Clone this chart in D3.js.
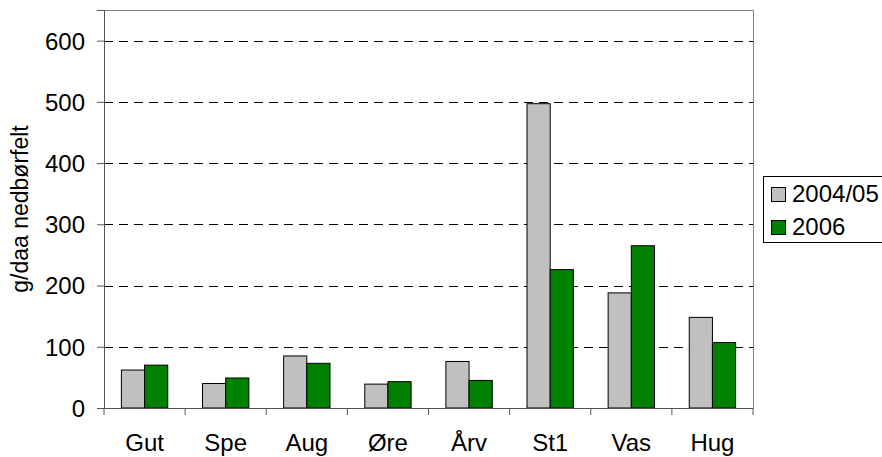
<!DOCTYPE html>
<html>
<head>
<meta charset="utf-8">
<script src="https://cdn.jsdelivr.net/npm/d3@7"></script>
<style>
  body { margin: 0; background: #fff; }
  text { font-family: "Liberation Sans", Arial, sans-serif; fill: #000; }
</style>
</head>
<body>
<div id="chart"></div>
<script>
const categories = ["Gut", "Spe", "Aug", "Øre", "Årv", "St1", "Vas", "Hug"]
const series = ["2004/05", "2006"]
const values0405 = [62, 40, 85, 39, 76, 497, 188, 148]
const values2006 = [70, 49, 73, 43, 45, 226, 265, 107]
const yTicks = [0, 100, 200, 300, 400, 500, 600]
const colors = ["#c0c0c0", "#008000"]

const width = 882, height = 457
const margin = { top: 10, right: 129, bottom: 49, left: 104 }
const innerW = width - margin.left - margin.right
const innerH = height - margin.top - margin.bottom

const svg = d3.select("#chart").append("svg")
  .attr("width", width)
  .attr("height", height)

const g = svg.append("g").attr("transform", `translate(${margin.left},${margin.top})`)

const x = d3.scaleBand().domain(categories).range([0, innerW])
const x1 = d3.scaleBand().domain(series).range([0, x.bandwidth()]).paddingInner(0).paddingOuter(0.75)
const y = d3.scaleLinear().domain([0, 650]).range([innerH, 0])

// gridlines
g.selectAll(".grid").data(yTicks.filter(d => d > 0))
  .enter().append("line")
    .attr("x1", 0).attr("x2", innerW)
    .attr("y1", d => Math.round(y(d)) + 0.5).attr("y2", d => Math.round(y(d)) + 0.5)
    .attr("stroke", "#000")
    .attr("stroke-dasharray", "9,6")

// plot border top/right
g.append("path")
  .attr("d", `M0.5,0.5H${innerW + 0.5}V${innerH}`)
  .attr("fill", "none")
  .attr("stroke", "#808080")

const rows = categories.map((c, i) => ({ cat: c, vals: [values0405[i], values2006[i]] }))

g.selectAll(".cat").data(rows)
  .enter().append("g")
    .attr("transform", d => `translate(${x(d.cat)},0)`)
  .selectAll("rect").data(d => d.vals.map((v, j) => ({ key: series[j], v, j })))
  .enter().append("rect")
    .attr("x", d => x1(d.key))
    .attr("y", d => y(d.v))
    .attr("width", x1.bandwidth())
    .attr("height", d => innerH - y(d.v))
    .attr("fill", d => colors[d.j])
    .attr("stroke", "#000")
    .attr("stroke-width", 1)

// y axis
const yAxis = g.append("g")
  .call(d3.axisLeft(y).tickValues(yTicks).tickSize(7).tickPadding(12))
yAxis.select(".domain").attr("stroke", "#555")
yAxis.selectAll(".tick line").attr("stroke", "#555")
yAxis.selectAll("text").style("font-size", "24px").attr("dy", "0.35em")

// x axis
const xAxis = g.append("g").attr("transform", `translate(0,${innerH})`)
  .call(d3.axisBottom(x).tickSize(0).tickPadding(0))
xAxis.select(".domain").attr("stroke", "#555")
xAxis.selectAll("text").style("font-size", "24px").attr("dy", null).attr("y", 43)
xAxis.selectAll(".sep").data(d3.range(categories.length + 1))
  .enter().append("line")
    .attr("x1", i => i * x.step()).attr("x2", i => i * x.step())
    .attr("y1", 0).attr("y2", 7)
    .attr("stroke", "#555")

// y title
svg.append("text")
  .attr("transform", `translate(28,${margin.top + 199}) rotate(-90)`)
  .attr("text-anchor", "middle")
  .style("font-size", "23px")
  .text("g/daa nedbørfelt")

// legend
const lg = svg.append("g").attr("transform", "translate(763,176)")
lg.append("rect")
  .attr("x", 0.5).attr("y", 0.5).attr("width", 130).attr("height", 66)
  .attr("fill", "#fff").attr("stroke", "#000")
series.forEach((s, i) => {
  lg.append("rect")
    .attr("x", 8.5).attr("y", 11.5 + i * 33).attr("width", 14).attr("height", 14)
    .attr("fill", colors[i]).attr("stroke", "#000")
  lg.append("text")
    .attr("x", 29).attr("y", 26 + i * 33)
    .style("font-size", "24px")
    .text(s)
})
</script>
</body>
</html>
